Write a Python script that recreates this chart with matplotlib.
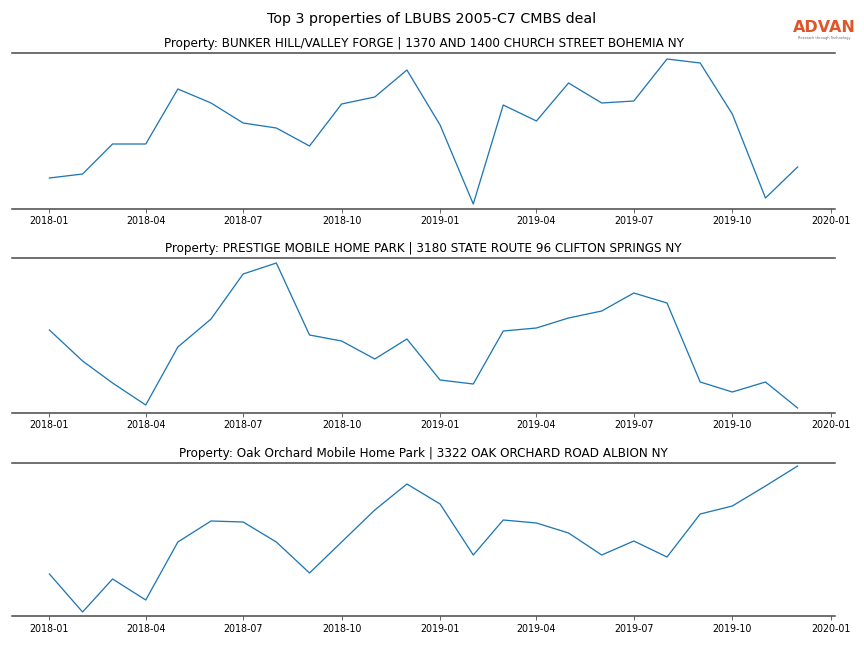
import matplotlib
matplotlib.use("Agg")
import matplotlib.pyplot as plt
import matplotlib.dates as mdates
import pandas as pd
import numpy as np

months = pd.date_range("2018-01-01", "2019-12-01", freq="MS")

titles = [
    "Property: BUNKER HILL/VALLEY FORGE | 1370 AND 1400 CHURCH STREET BOHEMIA NY",
    "Property: PRESTIGE MOBILE HOME PARK | 3180 STATE ROUTE 96 CLIFTON SPRINGS NY",
    "Property: Oak Orchard Mobile Home Park | 3322 OAK ORCHARD ROAD ALBION NY",
]

bunker = [-178, -174, -144, -144, -89, -103, -123, -128, -146, -104, -97, -70,
          -125, -204, -105, -121, -83, -103, -101, -59, -63, -114, -198, -167]
prestige = [-330, -361, -383, -405, -347, -319, -274, -263, -335, -341, -359, -339,
            -380, -384, -331, -328, -318, -311, -293, -303, -382, -392, -382, -408]
oak = [-574, -612, -579, -600, -542, -521, -522, -542, -573, -542, -510, -484,
       -504, -555, -520, -523, -533, -555, -541, -557, -514, -506, -486, -466]

series = [bunker, prestige, oak]

fig = plt.figure(figsize=(12, 9), dpi=72)
W, H = 864, 648
boxes = [(53, 209), (258, 413), (463, 616)]
left, right = 12, 835

for (top, bot), vals, title in zip(boxes, series, titles):
    ax = fig.add_axes([left / W, 1 - bot / H, (right - left) / W, (bot - top) / H])
    ax.plot(months, vals, color="#1f77b4", linewidth=1.3)
    ax.set_ylim(-bot, -top)
    ax.set_title(title, fontsize=12, pad=6)
    ax.xaxis.set_major_locator(mdates.MonthLocator(bymonth=[1, 4, 7, 10]))
    ax.xaxis.set_major_formatter(mdates.DateFormatter("%Y-%m"))
    ax.tick_params(axis="x", labelsize=9.5, length=4, color="#444444")
    ax.set_yticks([])
    ax.spines["left"].set_visible(False)
    ax.spines["right"].set_visible(False)
    for s in ("top", "bottom"):
        ax.spines[s].set_color("#444444")
        ax.spines[s].set_linewidth(1.5)

fig.text(0.5, 1 - 19 / H, "Top 3 properties of LBUBS 2005-C7 CMBS deal",
         ha="center", va="center", fontsize=14.3)
fig.text(824 / W, 1 - 27 / H, "ADVAN", ha="center", va="center",
         fontsize=16, color="#E0562A", fontweight="semibold")
fig.text(824 / W, 1 - 38 / H, "Research through Technology", ha="center",
         va="center", fontsize=3.5, color="#666666")

fig.savefig("out.png", dpi=72)
